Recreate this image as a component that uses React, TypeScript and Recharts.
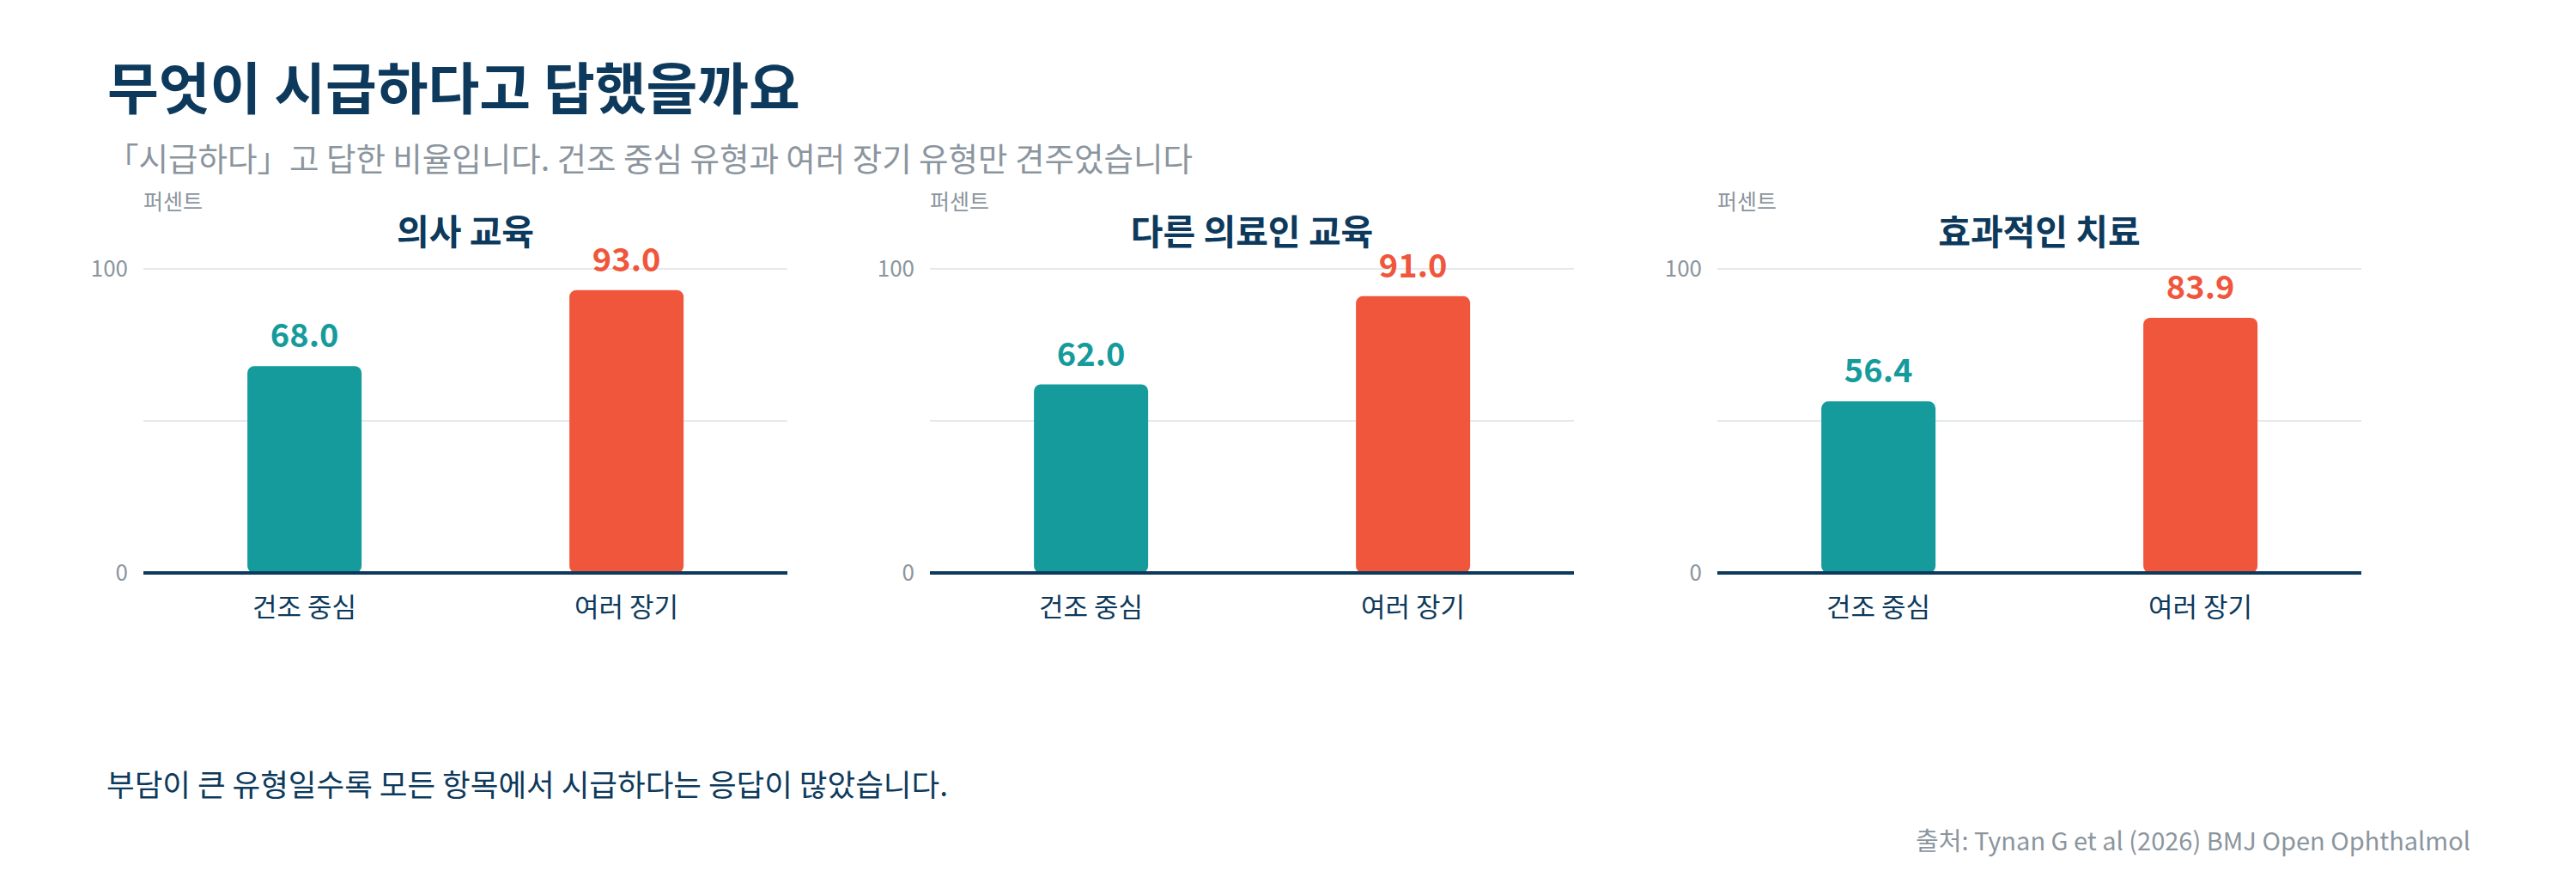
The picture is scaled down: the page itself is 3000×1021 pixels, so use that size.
import { BarChart, Bar, Cell, XAxis, YAxis, CartesianGrid } from 'recharts'

const FONT = '"Noto Sans CJK KR", "Noto Sans", sans-serif'
const NAVY = '#0d3a5c'
const GRAY = '#8b959e'

const categories = ['건조 중심', '여러 장기']
const panelTitles = ['의사 교육', '다른 의료인 교육', '효과적인 치료']
const dryFocusValues = [68.0, 62.0, 56.4]
const multiOrganValues = [93.0, 91.0, 83.9]
const yTicks = [0, 50, 100]
const labeledTicks = [0, 100]
const barColors = ['#169b9d', '#f0563c']

// plot left edges of the three panels (px)
const plotLefts = [167, 1083, 2000]
const PLOT_W = 750
const Y_W = 80

function ValueLabel(props: any) {
  const { x, y, width, value, index } = props
  return (
    <text
      x={x + width / 2}
      y={y - 22}
      textAnchor="middle"
      fill={barColors[index]}
      fontSize={38}
      fontWeight={700}
      fontFamily={FONT}
    >
      {Number(value).toFixed(1)}
    </text>
  )
}

function Panel({ idx }: { idx: number }) {
  const data = categories.map((name, i) => ({
    name,
    value: i === 0 ? dryFocusValues[idx] : multiOrganValues[idx],
  }))
  const left = plotLefts[idx]
  return (
    <>
      <div style={{ position: 'absolute', left, top: 221, fontSize: 25, lineHeight: 1, color: GRAY }}>퍼센트</div>
      <div
        style={{
          position: 'absolute',
          left,
          width: PLOT_W,
          top: 247,
          textAlign: 'center',
          fontSize: 41,
          lineHeight: 1,
          fontWeight: 700,
          color: NAVY,
        }}
      >
        {panelTitles[idx]}
      </div>
      <div style={{ position: 'absolute', left: left - Y_W, top: 200 }}>
        <BarChart
          width={Y_W + PLOT_W}
          height={537}
          data={data}
          margin={{ top: 113, right: 0, left: 0, bottom: 0 }}
          barCategoryGap="32.3%"
        >
          <CartesianGrid vertical={false} stroke="#e6e9ec" strokeWidth={2} />
          <XAxis
            dataKey="name"
            height={70}
            axisLine={{ stroke: NAVY, strokeWidth: 4 }}
            tickLine={false}
            tickSize={0}
            tickMargin={29}
            tick={{ fill: NAVY, fontSize: 31, fontFamily: FONT }}
          />
          <YAxis
            width={Y_W}
            domain={[0, 100]}
            ticks={yTicks}
            tickFormatter={(v) => (labeledTicks.includes(v) ? String(v) : '')}
            axisLine={false}
            tickLine={false}
            tickSize={0}
            tickMargin={18}
            tick={{ fill: GRAY, fontSize: 26, fontFamily: FONT }}
          />
          <Bar dataKey="value" radius={8} isAnimationActive={false} label={<ValueLabel />}>
            {data.map((d, i) => (
              <Cell key={d.name} fill={barColors[i]} />
            ))}
          </Bar>
        </BarChart>
      </div>
    </>
  )
}

export default function App() {
  return (
    <div
      style={{
        position: 'absolute',
        left: 0,
        top: 0,
        width: 3000,
        height: 1021,
        background: '#fff',
        fontFamily: FONT,
        overflow: 'hidden',
      }}
    >
      <div style={{ position: 'absolute', left: 125, top: 67, fontSize: 65, lineHeight: 1, fontWeight: 700, color: NAVY }}>
        무엇이 시급하다고 답했을까요
      </div>
      <div style={{ position: 'absolute', left: 124, top: 164, fontSize: 37.5, lineHeight: 1, color: GRAY }}>
        「시급하다」고 답한 비율입니다. 건조 중심 유형과 여러 장기 유형만 견주었습니다
      </div>
      {panelTitles.map((_, i) => (
        <Panel key={i} idx={i} />
      ))}
      <div style={{ position: 'absolute', left: 124, top: 894, fontSize: 35.5, lineHeight: 1, color: NAVY }}>
        부담이 큰 유형일수록 모든 항목에서 시급하다는 응답이 많았습니다.
      </div>
      <div style={{ position: 'absolute', right: 3000 - 2877, top: 963, fontSize: 29, lineHeight: 1, color: GRAY }}>
        출처: Tynan G et al (2026) BMJ Open Ophthalmol
      </div>
    </div>
  )
}
